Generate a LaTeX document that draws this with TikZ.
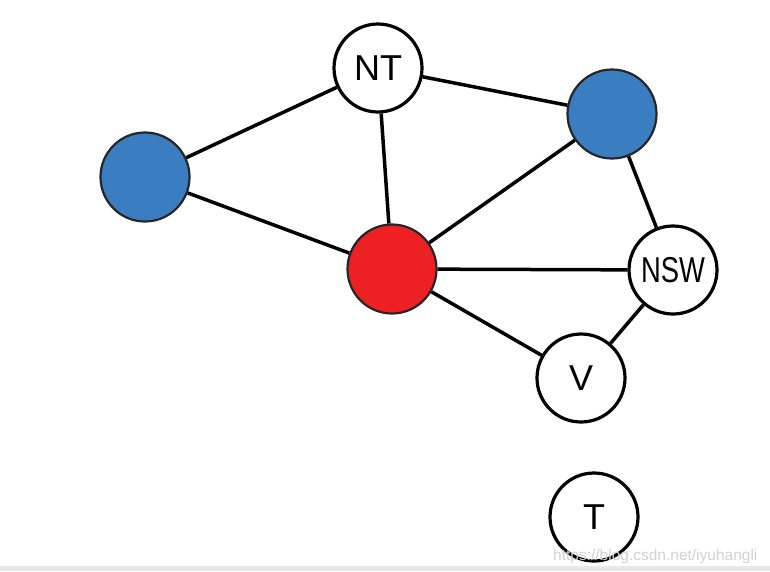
\documentclass[tikz,border=0pt]{standalone}
\usepackage{fontspec}
\setmainfont{Liberation Sans}
\usepackage{graphicx}
\definecolor{nodeblue}{RGB}{58,126,193}
\definecolor{nodered}{RGB}{237,32,36}
\definecolor{bandgray}{RGB}{232,232,232}
\begin{document}
\begin{tikzpicture}[x=1pt,y=-1pt,
  vert/.style={circle,draw=black,line width=3.2pt,fill=white,minimum size=88pt,inner sep=0pt,font=\fontsize{36}{36}\selectfont},
  colvert/.style={circle,draw=black!85,line width=2.2pt,minimum size=89pt,inner sep=0pt},
  edge/.style={line width=3.5pt,black}]
\useasboundingbox (0,0) rectangle (770,571);
\fill[bandgray] (0,566) rectangle (770,571);
\node[vert] (NT) at (378,68) {NT};
\node[colvert,fill=nodeblue] (WA) at (145,177) {};
\node[colvert,fill=nodeblue] (Q) at (612,114) {};
\node[colvert,fill=nodered] (SA) at (392,269) {};
\node[vert] (NSW) at (673,270) {\scalebox{0.76}[1]{NSW}};
\node[vert] (V) at (581,378) {V};
\node[vert] (T) at (594,517) {T};
\draw[edge] (NT) -- (WA);
\draw[edge] (NT) -- (Q);
\draw[edge] (NT) -- (SA);
\draw[edge] (WA) -- (SA);
\draw[edge] (SA) -- (Q);
\draw[edge] (SA) -- (NSW);
\draw[edge] (SA) -- (V);
\draw[edge] (Q) -- (NSW);
\draw[edge] (NSW) -- (V);
\node[anchor=base west,text=black!18,font=\fontsize{15.5}{15.5}\selectfont,inner sep=0pt] (wm) at (553,560) {https://blog.csdn.net/iyuhangli};
\end{tikzpicture}
\end{document}
